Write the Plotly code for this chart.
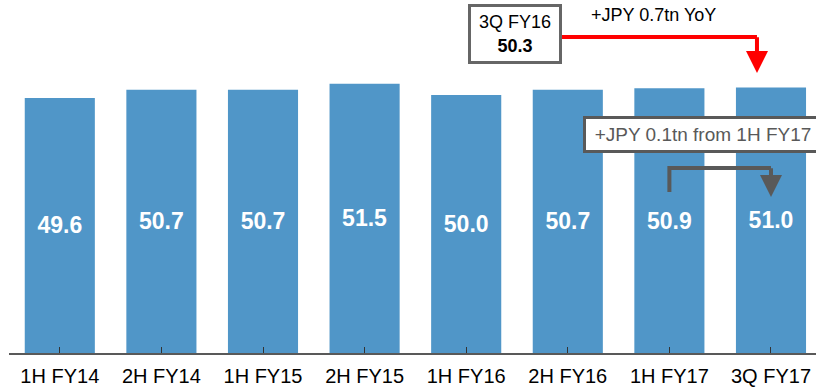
import plotly.graph_objects as go

# Revenue by period (JPY tn)
periods = ["1H FY14", "2H FY14", "1H FY15", "2H FY15", "1H FY16", "2H FY16", "1H FY17", "3Q FY17"]
values = [49.6, 50.7, 50.7, 51.5, 50.0, 50.7, 50.9, 51.0]

# Comparison call-outs
prior_label = "3Q FY16"
prior_value = 50.3
yoy_text = "+JPY 0.7tn YoY"
half_text = "+JPY 0.1tn from 1H FY17"

BAR_COLOR = "#5096C8"
GRAY = "#595959"
FONT = "Liberation Sans, Arial, sans-serif"

# truncated value axis: bars rise from the bottom of the visible range
Y_MIN, Y_MAX = 15.73, 62.61

fig = go.Figure()
fig.add_trace(go.Bar(
    x=list(range(len(periods))),
    base=[Y_MIN] * len(values),
    y=[v - Y_MIN for v in values],
    marker=dict(color=BAR_COLOR, line=dict(width=0)),
    text=[f"{v:.1f}" for v in values],
    textposition="inside",
    insidetextanchor="middle",
    textangle=0,
    textfont=dict(family=FONT, size=23, color="white", weight="bold"),
    hoverinfo="skip",
))

# red elbow: 3Q FY16 box -> 3Q FY17 bar
fig.add_shape(type="line", xref="x", yref="y", x0=4.94, y0=57.70, x1=6.862, y1=57.70,
              line=dict(color="#FF0000", width=4))
fig.add_annotation(xref="x", yref="y", axref="x", ayref="y",
                   x=6.862, y=52.92, ax=6.862, ay=57.85, text="",
                   showarrow=True, arrowhead=2, arrowsize=1.1, arrowwidth=4,
                   arrowcolor="#FF0000", standoff=0)

# gray elbow: 1H FY17 -> 3Q FY17
fig.add_shape(type="path", xref="x", yref="y",
              path="M 6,37.11 L 6,40.30 L 7,40.30",
              line=dict(color=GRAY, width=4))
fig.add_annotation(xref="x", yref="y", axref="x", ayref="y",
                   x=7, y=36.45, ax=7, ay=40.45, text="",
                   showarrow=True, arrowhead=2, arrowsize=1.1, arrowwidth=4,
                   arrowcolor=GRAY, standoff=0)

# boxed call-outs
fig.add_annotation(xref="x", yref="y", x=4.485, y=58.16,
                   text=f"{prior_label}<br><b>{prior_value:.1f}</b>",
                   showarrow=False, width=88, height=54, borderpad=0,
                   bordercolor="#666666", borderwidth=3, bgcolor="white",
                   font=dict(family=FONT, size=18, color="black"), align="center")
fig.add_annotation(xref="x", yref="y", x=5.839, y=60.62, text=yoy_text,
                   showarrow=False, font=dict(family=FONT, size=18, color="black"))
fig.add_annotation(xref="x", yref="y", x=6.33, y=44.75, text=half_text,
                   showarrow=False, width=234, height=31, borderpad=0,
                   bordercolor=GRAY, borderwidth=3, bgcolor="white",
                   font=dict(family=FONT, size=19, color=GRAY))

fig.update_layout(
    width=816, height=391,
    margin=dict(l=9, r=0, t=0, b=38),
    paper_bgcolor="white", plot_bgcolor="white",
    bargap=0.31,
    showlegend=False,
    font=dict(family=FONT),
)
fig.update_xaxes(
    range=[-0.5, 7.443],
    tickmode="array", tickvals=list(range(len(periods))), ticktext=periods,
    tickfont=dict(family=FONT, size=20, color="black"),
    ticklabelstandoff=4,
    showline=True, linecolor=GRAY, linewidth=1.5,
    ticks="inside", tickson="boundaries", ticklen=6, tickcolor="#333333", tickwidth=1,
    showgrid=False, zeroline=False,
)
fig.update_yaxes(range=[Y_MIN, Y_MAX], visible=False, showgrid=False, zeroline=False)

fig.write_html("out.html")
